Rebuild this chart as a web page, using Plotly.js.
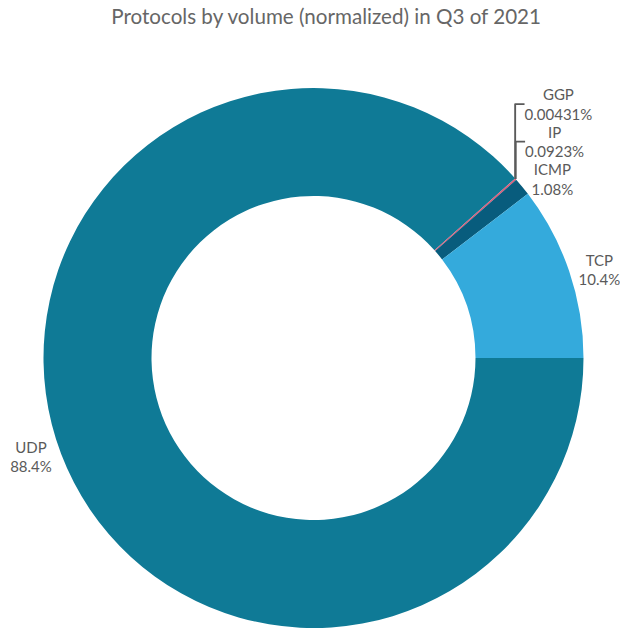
<!DOCTYPE html>
<html>
<head>
<meta charset="utf-8">
<script src="https://cdn.plot.ly/plotly-3.0.1.min.js"></script>
<style>html,body{margin:0;padding:0;background:#fff;}#chart{width:620px;height:630px;}</style>
</head>
<body>
<div id="chart"></div>
<script>
const labels = ["UDP", "GGP", "IP", "ICMP", "TCP"];
const values = [88.4, 0.00431, 0.0923, 1.08, 10.4];
const colors = ["#0f7a96", "#9b6a8a", "#dc5a78", "#085c7d", "#34aadc"];
const titleText = "Protocols by volume (normalized) in Q3 of 2021";

const trace = {
  type: "pie",
  labels: labels,
  values: values,
  sort: false,
  direction: "clockwise",
  rotation: 90,
  hole: 0.6,
  marker: {colors: colors, line: {width: 0}},
  textinfo: "label+percent",
  textposition: "outside",
  outsidetextfont: {family: "Lato, 'Noto Sans', sans-serif", size: 15, color: "#5a5a5a"},
  hoverinfo: "none",
  showlegend: false
};

const layout = {
  width: 620,
  height: 630,
  margin: {l: 43, r: 36, t: 88, b: 2},
  paper_bgcolor: "#fff",
  font: {family: "Lato, 'Noto Sans', sans-serif", color: "#5a5a5a"},
  title: {
    text: titleText,
    x: 0.526,
    xanchor: "center",
    y: 0.974,
    yanchor: "middle",
    font: {family: "Lato, 'Noto Sans', sans-serif", size: 20.6, color: "#666"}
  }
};

Plotly.newPlot("chart", [trace], layout, {displayModeBar: false, staticPlot: true});
</script>
</body>
</html>
